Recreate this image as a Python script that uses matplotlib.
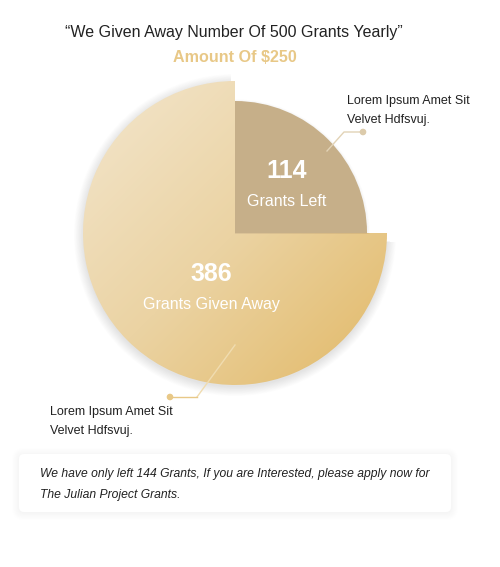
import matplotlib.pyplot as plt
import numpy as np
from matplotlib.patches import Wedge, FancyBboxPatch, Circle
from matplotlib.colors import LinearSegmentedColormap

plt.rcParams['font.family'] = ['Liberation Sans', 'DejaVu Sans']

# data
labels = ["Grants Left", "Grants Given Away"]
counts = [114, 386]
shares = [25, 75]            # visual share of the circle as drawn in the design
title = "\u201cWe Given Away Number Of 500 Grants Yearly\u201d"
subtitle = "Amount Of $250"
note = "Lorem Ipsum Amet Sit\nVelvet Hdfsvuj."
footer = ("We have only left 144 Grants, If you are Interested, please apply now for\n"
          "The Julian Project Grants.")

gold = "#e8c887"
tan = "#c6af89"

fig = plt.figure(figsize=(5, 5.67), dpi=100)
ax = fig.add_axes([0, 0, 1, 1])
ax.set_xlim(0, 500)
ax.set_ylim(567, 0)
ax.axis('off')

cx, cy = 235, 233
r_big, r_small = 152, 132

# y axis is flipped, so 270 deg points to 12 o'clock
a_small = 360 * shares[0] / 100
small_t1, small_t2 = 270, 270 + a_small
big_t1, big_t2 = small_t2, small_t2 + 360 * shares[1] / 100

# soft shadow under big slice
for i in range(14):
    ax.add_patch(Wedge((cx, cy + 2), r_big + i * 0.7, big_t1 + 2.5, big_t2 - 1.5,
                       color='#000000', alpha=0.006, lw=0))

# big slice with gradient
big = Wedge((cx, cy), r_big, big_t1, big_t2, lw=0, facecolor='none')
ax.add_patch(big)
cmap = LinearSegmentedColormap.from_list('g', ['#f3e6cd', '#ebd3a3', '#e2b967'])
n = 300
xx, yy = np.meshgrid(np.linspace(0, 1, n), np.linspace(0, 1, n))
grad = (xx + yy) / 2
img = ax.imshow(grad, cmap=cmap, extent=(cx - r_big, cx + r_big, cy + r_big, cy - r_big),
                origin='upper', zorder=2, interpolation='bilinear')
img.set_clip_path(big)

# small slice shadow + slice
for i in range(5):
    ax.add_patch(Wedge((cx, cy + 1), r_small + i * 0.7, small_t1, small_t2,
                       color='#000000', alpha=0.012, lw=0, zorder=2.5))
ax.add_patch(Wedge((cx, cy), r_small, small_t1, small_t2, color=tan, lw=0, zorder=3))

# slice labels
ax.text(287, 171, str(counts[0]), color='white', fontsize=18, fontweight='bold',
        ha='center', va='center', zorder=5)
ax.text(287, 201, labels[0], color='white', fontsize=11.5, ha='center', va='center', zorder=5)
ax.text(211, 274, str(counts[1]), color='white', fontsize=18, fontweight='bold',
        ha='center', va='center', zorder=5)
ax.text(211, 304, labels[1], color='white', fontsize=11.5, ha='center', va='center', zorder=5)

# titles
ax.text(234, 32, title, fontsize=11.5, color='#222222', ha='center', va='center')
ax.text(235, 57, subtitle, fontsize=11.6, color=gold, fontweight='bold', ha='center', va='center')

# callouts
ax.plot([327, 344, 362], [151, 132, 132], color='#e2d3b6', lw=1, zorder=4)
ax.add_patch(Circle((363, 132), 2.6, color='#dccbab', zorder=4))
ax.text(347, 110.5, note, fontsize=9, color='#222222', ha='left', va='center', linespacing=1.85)

ax.plot([235, 197], [345, 397], color='#f0dcb0', lw=1, zorder=4)
ax.plot([197, 171], [397, 397], color=gold, lw=1, zorder=4)
ax.add_patch(Circle((170, 397), 2.6, color=gold, zorder=4))
ax.text(50, 421.5, note, fontsize=9, color='#222222', ha='left', va='center', linespacing=1.85)

# footer box with shadow
for i in range(10):
    ax.add_patch(FancyBboxPatch((19 - i * 0.8, 455 - i * 0.8), 432 + 1.6 * i, 58 + 1.6 * i,
                                boxstyle='round,pad=0,rounding_size=%.1f' % (5 + i * 0.8),
                                facecolor='#000000', alpha=0.004, lw=0))
ax.add_patch(FancyBboxPatch((19, 454), 432, 58, boxstyle='round,pad=0,rounding_size=5',
                            facecolor='white', edgecolor='none'))
ax.text(40, 484.5, footer, fontsize=8.7, style='italic', color='#222222', ha='left', va='center',
        linespacing=1.95)

fig.savefig('out.png', dpi=100)
